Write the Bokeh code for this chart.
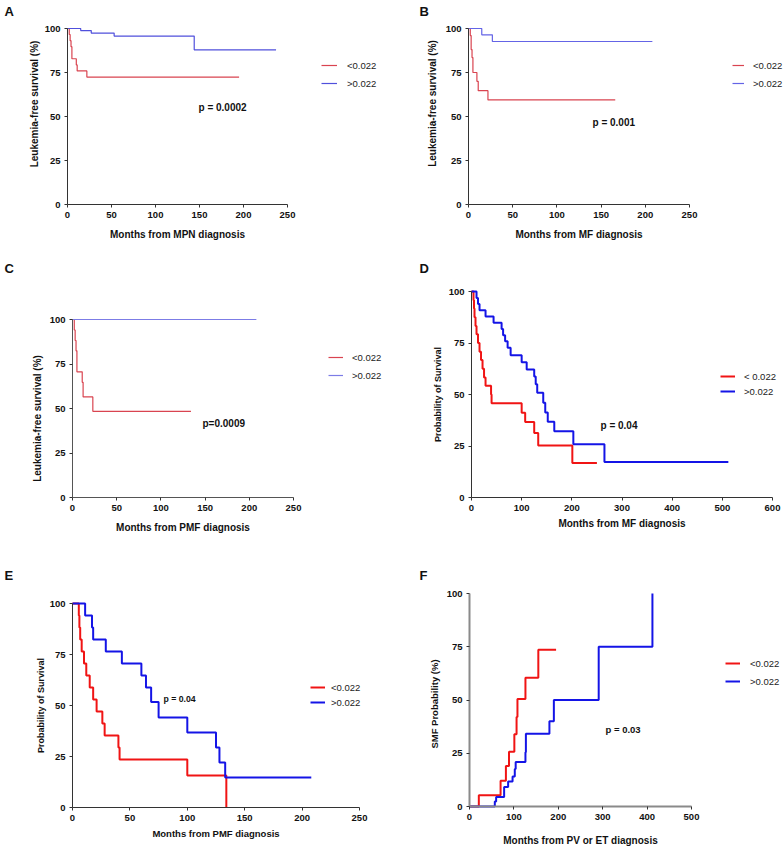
from bokeh.plotting import figure
from bokeh.models import (Range1d, FixedTicker, Label, Legend, LegendItem, ColumnDataSource,
                          LinearAxis)
from bokeh.layouts import column, row
from bokeh.embed import file_html
from bokeh.resources import INLINE

FONT = "Liberation Sans"

# ---------------- data ----------------
y_ticks = [0, 25, 50, 75, 100]
x_ticks_250 = [0, 50, 100, 150, 200, 250]
x_ticks_600 = [0, 100, 200, 300, 400, 500, 600]
x_ticks_500 = [0, 100, 200, 300, 400, 500]

# Panel A
a_low_t = [0, 2, 3, 4, 5, 10, 11, 22, 195]
a_low_s = [100, 96.6, 93.1, 89.7, 82.8, 79.3, 75.9, 72.4, 72.4]
a_high_t = [0, 15, 27, 53, 144, 237]
a_high_s = [100, 98.8, 97.4, 95.7, 87.9, 87.9]
# Panel B
b_low_t = [0, 2, 3, 4, 5, 9.5, 11, 22, 166]
b_low_s = [100, 96.0, 88.0, 83.5, 75.0, 70.0, 64.7, 59.4, 59.4]
b_high_t = [0, 15, 27, 208]
b_high_s = [100, 96.4, 92.6, 92.6]
# Panel C
c_low_t = [0, 2, 3, 4, 5, 11, 12, 23, 134]
c_low_s = [100, 94.1, 88.2, 82.4, 70.6, 64.7, 56.5, 48.4, 48.4]
c_high_t = [0, 208]
c_high_s = [100, 100]
# Panel D
d_low_t = [0, 4, 5, 6, 8, 10, 13, 16, 19, 22, 25, 28, 39, 40, 100, 107, 125, 133, 201, 250]
d_low_s = [100, 95.8, 91.7, 87.5, 83.3, 79.2, 75.0, 70.8, 66.7, 62.5, 58.3, 54.2, 50.0, 45.8,
           41.2, 36.6, 31.3, 25.2, 16.8, 16.8]
d_high_t = [0, 10, 13, 16, 28, 44, 60, 63, 67, 72, 78, 100, 110, 125, 128, 131, 143, 147, 152,
            165, 203, 265, 512]
d_high_s = [100, 96.9, 93.9, 90.9, 87.9, 84.8, 81.8, 78.8, 75.8, 72.7, 69.0, 65.6, 62.1, 58.7,
            55.0, 50.8, 46.0, 41.3, 36.8, 32.2, 25.8, 17.2, 17.2]
# Panel E
e_low_t = [0, 5.5, 6, 6.7, 8, 10, 12, 15, 18, 21, 26, 28, 40, 41, 100, 134]
e_low_s = [100, 94.1, 88.2, 82.4, 76.5, 70.6, 64.7, 58.8, 52.9, 47.1, 41.2, 35.3, 29.4, 23.5,
           15.7, 0]
e_high_t = [0, 11, 17, 18, 29, 43, 60, 64, 68.5, 75, 100, 125, 128, 133, 208]
e_high_s = [100, 94.1, 88.2, 82.4, 76.5, 70.6, 64.7, 58.8, 51.7, 44.1, 36.8, 29.4, 22.1, 14.7,
            14.7]
# Panel F (cumulative probability)
f_low_t = [0, 21, 70, 82, 89, 101, 106, 108, 126, 155, 195]
f_low_s = [0, 5.3, 12.1, 19.0, 25.7, 33.9, 42.0, 50.5, 60.4, 73.6, 73.6]
f_high_t = [0, 57, 60, 78, 87, 97, 102, 104, 126, 127, 180, 190, 291, 412]
f_high_s = [0, 2.3, 4.5, 9.2, 11.7, 14.1, 17.6, 20.9, 25.5, 34.2, 40.0, 50.0, 75.0, 100]

# ---------------- layout geometry (page pixels) ----------------
# fl/ft: page position of the axes origin's left / the 100 tick; fw/fh: axis lengths
panels = [
    dict(key="A", ox=0, oy=0, w=392, h=258, fl=67, ft=28, fw=220, fh=176, xmax=250,
         xticks=x_ticks_250, low=(a_low_t, a_low_s), high=(a_high_t, a_high_s),
         leg=["<0.022", ">0.022"], leg_x=321, leg_y=(65, 83), gw=16, gs=10,
         p_text="p = 0.0002", p_xy=(198, 107), p_size=10, letter_xy=(4, 11),
         ylabel="Leukemia-free survival (%)", ylab_size=10, ylab_gap=28, ylab_c=103.5,
         xlabel="Months from MPN diagnosis", xlab_size=10, xlab_s=8,
         red="#d94450", blue="#5050dc", lw=1.2, axc="#333333", axw=1),
    dict(key="B", ox=392, oy=0, w=392, h=258, fl=468, ft=28, fw=221, fh=176, xmax=250,
         xticks=x_ticks_250, low=(b_low_t, b_low_s), high=(b_high_t, b_high_s),
         leg=["<0.022", ">0.022"], leg_x=732, leg_y=(65, 83), gw=12, gs=9,
         p_text="p = 0.001", p_xy=(592, 122), p_size=10, letter_xy=(419, 11),
         ylabel="Leukemia-free survival (%)", ylab_size=10, ylab_gap=31, ylab_c=103,
         xlabel="Months from MF diagnosis", xlab_size=10, xlab_s=8,
         red="#d94450", blue="#6464e6", lw=1.2, axc="#333333", axw=1),
    dict(key="C", ox=0, oy=258, w=392, h=287, fl=72, ft=319, fw=221, fh=178, xmax=250,
         xticks=x_ticks_250, low=(c_low_t, c_low_s), high=(c_high_t, c_high_s),
         leg=["<0.022", ">0.022"], leg_x=328, leg_y=(357, 375), gw=15, gs=9,
         p_text="p=0.0009", p_xy=(202, 423), p_size=10, letter_xy=(4, 268),
         ylabel="Leukemia-free survival (%)", ylab_size=10, ylab_gap=30, ylab_c=418,
         xlabel="Months from PMF diagnosis", xlab_size=10, xlab_s=8,
         red="#d94450", blue="#7c7ce6", lw=1.2, axc="#555555", axw=1),
    dict(key="D", ox=392, oy=258, w=392, h=287, fl=471, ft=291, fw=301, fh=206, xmax=600,
         xticks=x_ticks_600, low=(d_low_t, d_low_s), high=(d_high_t, d_high_s),
         leg=["< 0.022", ">0.022"], leg_x=720, leg_y=(376, 391), gw=15, gs=9,
         p_text="p = 0.04", p_xy=(600, 425), p_size=10, letter_xy=(419, 268),
         ylabel="Probability of Survival", ylab_size=9, ylab_gap=29, ylab_c=394,
         xlabel="Months from MF diagnosis", xlab_size=10, xlab_s=4,
         red="#f01414", blue="#1414e6", lw=2, axc="#333333", axw=1),
    dict(key="E", ox=0, oy=545, w=392, h=301, fl=72, ft=603, fw=287, fh=204, xmax=250,
         xticks=x_ticks_250, low=(e_low_t, e_low_s), high=(e_high_t, e_high_s),
         leg=["<0.022", ">0.022"], leg_x=310, leg_y=(687, 702), gw=15, gs=6,
         p_text="p = 0.04", p_xy=(163, 698), p_size=8.7, letter_xy=(4, 575),
         ylabel="Probability of Survival", ylab_size=9, ylab_gap=27, ylab_c=705,
         xlabel="Months from PMF diagnosis", xlab_size=9.5, xlab_s=4,
         red="#f01414", blue="#1414e6", lw=2, axc="#333333", axw=1),
    dict(key="F", ox=392, oy=545, w=392, h=301, fl=469, ft=593, fw=222, fh=213, xmax=500,
         xticks=x_ticks_500, low=(f_low_t, f_low_s), high=(f_high_t, f_high_s),
         leg=["<0.022", ">0.022"], leg_x=725, leg_y=(663, 681), gw=15, gs=10,
         p_text="p = 0.03", p_xy=(605, 729), p_size=9.5, letter_xy=(419, 575),
         ylabel="SMF Probability (%)", ylab_size=9.5, ylab_gap=30, ylab_c=703.5,
         xlabel="Months from PV or ET diagnosis", xlab_size=10, xlab_s=12,
         red="#f01414", blue="#1414e6", lw=2, axc="#8a8a8a", axw=2),
]


def make_panel(g):
    fb = g["ft"] + g["fh"]

    def fx(px):
        return (px - g["fl"]) / g["fw"] * g["xmax"]

    def fy(py):
        return (fb - py) / g["fh"] * 100.0

    p = figure(width=g["w"], height=g["h"], output_backend="svg", toolbar_location=None,
               x_range=Range1d(fx(g["ox"]), fx(g["ox"] + g["w"])),
               y_range=Range1d(fy(g["oy"] + g["h"]), fy(g["oy"])),
               min_border=0, min_border_left=0, min_border_right=0,
               min_border_top=0, min_border_bottom=0)
    p.outline_line_color = None
    p.grid.visible = False
    p.background_fill_color = "white"
    p.border_fill_color = "white"
    p.xaxis.ticker = FixedTicker(ticks=g["xticks"])
    p.yaxis.ticker = FixedTicker(ticks=y_ticks)
    p.xaxis.fixed_location = 0
    p.yaxis.fixed_location = 0
    p.xaxis.bounds = (0, g["xmax"])
    p.yaxis.bounds = (0, 100)
    p.xaxis.axis_label = g["xlabel"]
    p.xaxis.axis_label_text_font_size = f"{g['xlab_size']}px"
    p.xaxis.axis_label_standoff = g["xlab_s"]
    for ax in (p.xaxis, p.yaxis):
        ax.axis_line_color = g["axc"]
        ax.axis_line_width = g["axw"]
        ax.major_tick_line_color = "#333333"
        ax.major_tick_line_width = 1
        ax.major_tick_out = 3
        ax.major_tick_in = 0
        ax.minor_tick_line_color = None
        ax.major_label_text_font = FONT
        ax.major_label_text_font_style = "bold"
        ax.major_label_text_font_size = "9.5px"
        ax.major_label_text_color = "#111111"
        ax.major_label_standoff = 4
        ax.axis_label_text_font = FONT
        ax.axis_label_text_font_style = "bold"
        ax.axis_label_text_color = "#111111"

    # y-axis title carried by a tick-less axis whose extent centres it where the reference has it
    yc = fy(g["ylab_c"])
    lab_axis = LinearAxis(fixed_location=0, bounds=(0, 2 * yc), ticker=FixedTicker(ticks=[]),
                          axis_line_color=None, major_tick_line_color=None,
                          minor_tick_line_color=None, major_tick_out=0, major_label_standoff=0,
                          axis_label=g["ylabel"], axis_label_standoff=g["ylab_gap"],
                          axis_label_text_font=FONT, axis_label_text_font_style="bold",
                          axis_label_text_font_size=f"{g['ylab_size']}px",
                          axis_label_text_color="#111111")
    p.add_layout(lab_axis, "left")

    src_low = ColumnDataSource(dict(t=g["low"][0], s=g["low"][1]))
    src_high = ColumnDataSource(dict(t=g["high"][0], s=g["high"][1]))
    r_low = p.step(x="t", y="s", source=src_low, mode="after",
                   line_color=g["red"], line_width=g["lw"])
    r_high = p.step(x="t", y="s", source=src_high, mode="after",
                    line_color=g["blue"], line_width=g["lw"])

    y1, y2 = g["leg_y"]
    item_h = 12
    leg_bottom = y2 + item_h / 2
    legend = Legend(items=[LegendItem(label=g["leg"][0], renderers=[r_low]),
                           LegendItem(label=g["leg"][1], renderers=[r_high])],
                    location=(g["leg_x"] - g["ox"], g["oy"] + g["h"] - leg_bottom),
                    orientation="vertical", padding=0, margin=0,
                    spacing=(y2 - y1) - item_h,
                    glyph_width=g["gw"], glyph_height=item_h, label_height=item_h,
                    label_standoff=g["gs"], label_text_font=FONT,
                    label_text_font_size="9.5px", label_text_color="#222222",
                    border_line_color=None, background_fill_alpha=0)
    p.add_layout(legend)

    def txt(px, py, text, size):
        p.add_layout(Label(x=fx(px), y=fy(py), text=text, text_font=FONT,
                           text_font_size=f"{size}px", text_font_style="bold",
                           text_align="left", text_baseline="middle", text_color="#111111"))

    txt(g["letter_xy"][0], g["letter_xy"][1], g["key"], 13)
    txt(g["p_xy"][0], g["p_xy"][1], g["p_text"], g["p_size"])
    return p


figs = [make_panel(g) for g in panels]
layout = column(row(figs[0], figs[1]), row(figs[2], figs[3]), row(figs[4], figs[5]))

open("out.html", "w").write(file_html(layout, INLINE))
